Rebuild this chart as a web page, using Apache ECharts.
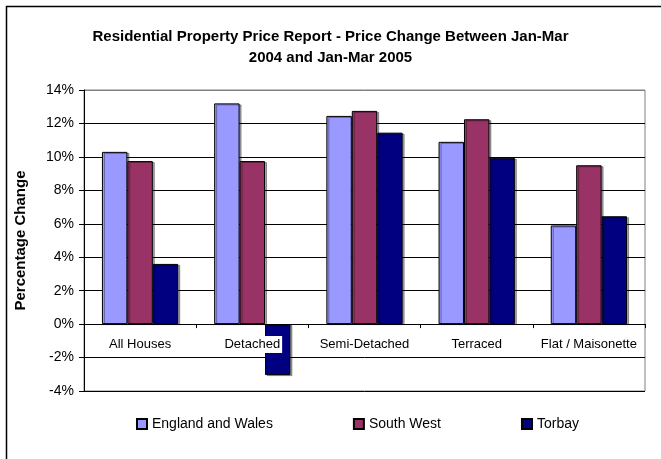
<!DOCTYPE html>
<html>
<head>
<meta charset="utf-8">
<script src="https://cdn.jsdelivr.net/npm/echarts@6/dist/echarts.min.js"></script>
<style>
    html, body { margin: 0; padding: 0; background: #fff; }
    #chart { width: 661px; height: 459px; }
</style>
</head>
<body>
<div id="chart"></div>
<script>
// 数据
var categories = ['All Houses', 'Detached', 'Semi-Detached', 'Terraced', 'Flat / Maisonette'];
var englandWales = [10.3, 13.2, 12.45, 10.9, 5.9];
var southWest = [9.75, 9.75, 12.75, 12.25, 9.5];
var torbay = [3.6, -3.05, 11.45, 9.95, 6.45];

var font = 'Liberation Sans, Arial, sans-serif';

window.onload = function () {
    var chart = echarts.init(document.getElementById('chart'));

    function barSeries(name, data, color) {
        return {
            name: name,
            type: 'bar',
            data: data,
            barGap: '0%',
            barCategoryGap: '32%',
            z: 1,
            itemStyle: {
                color: color,
                borderColor: '#000',
                borderWidth: 1,
                shadowColor: 'rgba(0,0,0,0.35)',
                shadowOffsetX: 2,
                shadowOffsetY: 1
            }
        };
    }

    var option = {
        animation: false,
        backgroundColor: '#fff',
        textStyle: { fontFamily: font },
        title: {
            text: 'Residential Property Price Report - Price Change Between Jan-Mar\n2004 and Jan-Mar 2005',
            left: 'center',
            top: 21,
            textStyle: {
                fontFamily: font,
                fontSize: 15,
                fontWeight: 'bold',
                color: '#000',
                lineHeight: 21
            }
        },
        graphic: [{
            type: 'rect',
            shape: { x: 6.5, y: 6.5, width: 700, height: 500 },
            style: { fill: 'none', stroke: '#000', lineWidth: 1.5 },
            silent: true
        }],
        grid: {
            left: 84,
            right: 16,
            top: 90,
            bottom: 68,
            show: true,
            borderColor: '#808080',
            borderWidth: 1
        },
        legend: {
            bottom: 23,
            left: 131,
            itemGap: 80,
            itemWidth: 10,
            itemHeight: 10,
            icon: 'rect',
            textStyle: { fontFamily: font, fontSize: 14, color: '#000' },
            data: ['England and Wales', 'South West', 'Torbay']
        },
        xAxis: {
            type: 'category',
            data: categories,
            zlevel: 2,
            z: 10,
            axisLine: { onZero: true, lineStyle: { color: '#000', width: 1 } },
            axisTick: { show: true, length: 4, lineStyle: { color: '#000' } },
            axisLabel: {
                interval: 0,
                fontFamily: font,
                fontSize: 13,
                color: '#000',
                margin: -55,
                backgroundColor: '#ffffff',
                padding: [2, 2, 2, 2]
            }
        },
        yAxis: {
            type: 'value',
            min: -4,
            max: 14,
            interval: 2,
            name: 'Percentage Change',
            nameLocation: 'middle',
            nameGap: 56,
            nameTextStyle: { fontFamily: font, fontSize: 15, fontWeight: 'bold', color: '#000' },
            axisLine: { show: true, lineStyle: { color: '#000' } },
            axisTick: { show: true, length: 5, lineStyle: { color: '#000' } },
            axisLabel: {
                fontFamily: font,
                fontSize: 14,
                color: '#000',
                margin: 10,
                formatter: '{value}%'
            },
            splitLine: {
                lineStyle: {
                    color: ['#000', '#000', '#000', '#000', '#000', '#000', '#000', '#000', '#000', '#808080'],
                    width: 1
                }
            }
        },
        series: [
            barSeries('England and Wales', englandWales, '#9999ff'),
            barSeries('South West', southWest, '#993366'),
            barSeries('Torbay', torbay, '#000080')
        ]
    };
    chart.setOption(option);
};
</script>
</body>
</html>
